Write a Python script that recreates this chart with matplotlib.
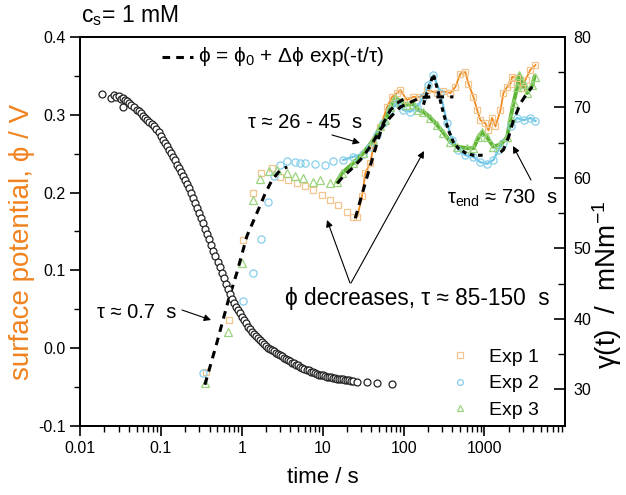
import matplotlib
matplotlib.use("Agg")
import matplotlib.pyplot as plt
from matplotlib.ticker import FixedLocator, MultipleLocator, FormatStrFormatter, FuncFormatter, LogLocator, NullFormatter

plt.rcParams["font.family"] = ["Liberation Sans", "DejaVu Sans"]
plt.rcParams["axes.unicode_minus"] = False
plt.rcParams["mathtext.fontset"] = "custom"
plt.rcParams["mathtext.rm"] = "Liberation Sans"
plt.rcParams["mathtext.it"] = "Liberation Sans"

# surface tension gamma(t) / mN m^-1  (right axis, black circles)
t_gamma = [0.0186, 0.024, 0.026, 0.028, 0.030, 0.032, 0.034, 0.034, 0.036, 0.038,
           0.040, 0.043, 0.046, 0.050, 0.053, 0.056, 0.060, 0.064, 0.068, 0.072,
           0.077, 0.082, 0.088, 0.094,
           0.100, 0.106, 0.112, 0.119, 0.126, 0.133, 0.141, 0.150, 0.158, 0.168,
           0.178, 0.188, 0.200, 0.211, 0.224, 0.237, 0.251, 0.266, 0.282, 0.299,
           0.316, 0.335, 0.355, 0.376, 0.398, 0.422, 0.447, 0.473, 0.501, 0.531,
           0.562, 0.596, 0.631, 0.668, 0.708, 0.750, 0.794, 0.841, 0.891, 0.944,
           1.00, 1.06, 1.12, 1.19, 1.26, 1.33, 1.41, 1.50, 1.58, 1.68,
           1.78, 1.88, 2.00, 2.11, 2.24, 2.37, 2.51, 2.66, 2.82, 2.99,
           3.16, 3.35, 3.55, 3.76, 3.98, 4.22, 4.47, 4.73, 5.01, 5.31,
           5.62, 5.96, 6.31, 6.68, 7.08, 7.50, 7.94, 8.41, 8.91, 9.44,
           10.0, 10.6, 11.2, 11.9, 12.6, 13.3, 14.1, 15.0, 15.8, 16.8,
           17.8, 18.8, 20.0, 21.1, 22.4, 23.7, 26.5, 35, 47, 72]
gamma = [71.9, 71.4, 71.8, 71.5, 71.6, 71.2, 71.3, 70.1, 71.0, 70.9,
         70.6, 70.4, 70.1, 69.7, 69.5, 69.2, 68.8, 68.5, 68.2, 67.9,
         67.6, 67.3, 66.9, 66.5,
         65.9, 65.4, 65.0, 64.5, 64.0, 63.5, 63.0, 62.5, 61.9, 61.4,
         60.8, 60.3, 59.7, 59.1, 58.6, 57.9, 57.2, 56.5, 55.7, 55.0,
         54.3, 53.6, 52.8, 52.1, 51.3, 50.5, 49.7, 48.9, 48.1, 47.3,
         46.5, 45.8, 45.0, 44.3, 43.6, 42.8, 42.2, 41.7, 41.2, 40.8,
         40.3, 39.9, 39.4, 38.9, 38.5, 38.2, 37.9, 37.6, 37.3, 37.0,
         36.7, 36.4, 36.2, 35.9, 35.7, 35.6, 35.4, 35.2, 35.0, 34.9,
         34.7, 34.5, 34.3, 34.1, 34.0, 33.8, 33.7, 33.5, 33.4, 33.2,
         33.1, 32.9, 32.8, 32.7, 32.5, 32.4, 32.3, 32.2, 32.1, 32.1,
         32.0, 31.9, 31.8, 31.8, 31.7, 31.6, 31.6, 31.5, 31.5, 31.4,
         31.4, 31.3, 31.3, 31.3, 31.2, 31.2, 31.1, 31.0, 30.9, 30.8]

# surface potential phi / V (left axis)
t_exp1 = [0.358, 0.704, 1.04, 1.39, 1.74, 2.34, 2.98, 3.75, 4.81, 6.10,
          7.66, 9.9, 12.4, 15.6, 20.0, 23.9, 26.8, 30.6, 33.7, 38.8,
          42.3, 51.6, 62.5, 72.1, 83.2, 91.3, 110, 132, 161, 195,
          260, 311, 380, 438, 505, 582, 634, 731, 813, 892,
          1028, 1121, 1245, 1368, 1578, 1718, 1909, 2099, 2203, 2541,
          2930, 3217, 3706, 4275]
phi_exp1 = [-0.031, 0.036, 0.139, 0.199, 0.225, 0.232, 0.220, 0.216, 0.212, 0.208,
            0.203, 0.197, 0.190, 0.184, 0.175, 0.169, 0.169, 0.195, 0.225, 0.238,
            0.259, 0.284, 0.310, 0.323, 0.328, 0.332, 0.319, 0.323, 0.323, 0.332,
            0.328, 0.330, 0.328, 0.336, 0.353, 0.355, 0.340, 0.323, 0.306, 0.293,
            0.289, 0.280, 0.296, 0.285, 0.306, 0.328, 0.336, 0.340, 0.349, 0.347,
            0.334, 0.345, 0.358, 0.364]

t_exp2 = [0.336, 1.03, 1.37, 1.74, 2.09, 2.47, 2.98, 3.6, 4.58, 5.28,
          6.10, 8.09, 10.8, 13.5, 18.0, 23.9, 31.8, 38.8, 47.0, 56.2,
          68.7, 83.2, 99.5, 121, 147, 176, 203, 234, 285, 345,
          398, 476, 582, 731, 892, 1079, 1291, 1489, 1718, 2099,
          2541, 3041, 3706, 4275]
phi_exp2 = [-0.032, 0.061, 0.097, 0.141, 0.188, 0.221, 0.235, 0.240, 0.239, 0.238,
            0.238, 0.237, 0.236, 0.240, 0.242, 0.246, 0.250, 0.259, 0.274, 0.289,
            0.306, 0.315, 0.306, 0.304, 0.310, 0.323, 0.338, 0.351, 0.328, 0.289,
            0.268, 0.255, 0.248, 0.246, 0.239, 0.237, 0.242, 0.255, 0.264, 0.285,
            0.296, 0.293, 0.296, 0.292]

t_exp3 = [0.35, 0.68, 1.02, 1.36, 1.68, 2.14, 2.74, 3.65, 4.58, 5.75,
          7.66, 9.33, 12.4, 15.0, 17.3, 23.9, 31.8, 42.3, 51.6, 59.6,
          68.7, 79.3, 91.3, 110, 132, 152, 176, 215, 260, 311,
          380, 459, 611, 731, 843, 936, 1079, 1291, 1578, 1909,
          2099, 2286, 2541, 2710, 3041, 3375, 3890, 4160]
phi_exp3 = [-0.045, 0.021, 0.110, 0.190, 0.217, 0.228, 0.229, 0.225, 0.221, 0.219,
            0.214, 0.216, 0.212, 0.214, 0.225, 0.238, 0.251, 0.268, 0.285, 0.293,
            0.310, 0.322, 0.317, 0.313, 0.314, 0.306, 0.304, 0.296, 0.287, 0.277,
            0.265, 0.259, 0.257, 0.257, 0.271, 0.278, 0.271, 0.259, 0.262, 0.271,
            0.296, 0.315, 0.336, 0.351, 0.340, 0.328, 0.338, 0.349]

# fitted curves phi = phi0 + dphi exp(-t/tau)
t_fit_a = [0.35, 0.492, 0.684, 0.869, 1.156, 1.54, 1.95, 2.36, 2.99, 3.65]
phi_fit_a = [-0.047, 0.007, 0.062, 0.097, 0.144, 0.174, 0.199, 0.216, 0.229, 0.233]
t_fit_b = [15.2, 18.0, 22.0, 29.2, 38.8, 51.6, 68.7, 91.3, 121, 161, 215, 285, 413]
phi_fit_b = [0.212, 0.221, 0.229, 0.242, 0.259, 0.281, 0.297, 0.310, 0.316, 0.322, 0.323, 0.323, 0.323]
t_fit_c = [25.3, 29.2, 35.3, 40.8, 47.0, 56.2, 68.7, 83.2, 99.5]
phi_fit_c = [0.167, 0.190, 0.220, 0.242, 0.264, 0.289, 0.306, 0.315, 0.320]
t_fit_d = [176, 203, 234, 270, 311, 359, 413, 476, 582, 731, 973]
phi_fit_d = [0.313, 0.334, 0.352, 0.328, 0.302, 0.280, 0.265, 0.257, 0.251, 0.248, 0.248]
t_fit_e = [1578, 1718, 1982, 2286, 2794, 3375, 3890]
phi_fit_e = [0.252, 0.255, 0.271, 0.293, 0.315, 0.328, 0.336]

orange_mk = "#F2C58E"
orange_ln = "#F28A1E"
blue_mk = "#86CFEA"
blue_ln = "#6EC6E6"
green_mk = "#9BD37F"
green_ln = "#5DB432"

fig = plt.figure(figsize=(6.26, 4.95), dpi=100)
ax = fig.add_axes([80 / 626, 69 / 495, 485 / 626, 389 / 495])
ax2 = ax.twinx()


def px(x, y):
    # pixel position in the picture -> axes fraction
    return ((x - 80) / 485, (426 - y) / 389)


# surface tension on right axis
ax2.plot(t_gamma, gamma, ls="none", marker="o", ms=5, mfc="white", mec="#222222", mew=0.9, zorder=2)

# experiments on left axis: light open markers plus darker line on the late part
ax.plot(t_exp1[16:], phi_exp1[16:], color=orange_ln, lw=1.3, zorder=3)
ax.plot(t_exp2[14:], phi_exp2[14:], color=blue_ln, lw=1.6, zorder=3)
ax.plot(t_exp3[13:], phi_exp3[13:], color=green_ln, lw=2.8, zorder=3)
ax.plot(t_exp1, phi_exp1, ls="none", marker="s", ms=4.8, mfc="none", mec=orange_mk, mew=0.9, label="Exp 1", zorder=4)
ax.plot(t_exp2, phi_exp2, ls="none", marker="o", ms=5.2, mfc="none", mec=blue_mk, mew=0.9, label="Exp 2", zorder=4)
ax.plot(t_exp3, phi_exp3, ls="none", marker="^", ms=5.2, mfc="none", mec=green_mk, mew=0.9, label="Exp 3", zorder=4)

dash = (0, (2.5, 2))
for tt, pp in [(t_fit_a, phi_fit_a), (t_fit_b, phi_fit_b), (t_fit_c, phi_fit_c), (t_fit_e, phi_fit_e)]:
    ax.plot(tt, pp, color="black", lw=2.2, ls=dash, zorder=5)
ax.plot(t_fit_d, phi_fit_d, color="black", lw=2.2, ls=(0, (1.5, 1.2)), zorder=5)

ax.set_xscale("log")
ax.set_xlim(0.01, 9900)
ax.set_ylim(-0.1, 0.4)
ax2.set_ylim(24.8, 80)

ax.xaxis.set_major_locator(FixedLocator([0.01, 0.1, 1, 10, 100, 1000]))
ax.xaxis.set_major_formatter(FuncFormatter(lambda v, p: "%g" % v))
ax.xaxis.set_minor_locator(LogLocator(base=10, subs=[2, 3, 4, 5, 6, 7, 8, 9], numticks=20))
ax.xaxis.set_minor_formatter(NullFormatter())
ax.yaxis.set_major_locator(MultipleLocator(0.1))
ax.yaxis.set_minor_locator(MultipleLocator(0.05))
ax.yaxis.set_major_formatter(FormatStrFormatter("%.1f"))
ax2.yaxis.set_major_locator(FixedLocator([30, 40, 50, 60, 70, 80]))
ax2.yaxis.set_minor_locator(FixedLocator([35, 45, 55, 65, 75]))

ax.tick_params(axis="both", which="major", direction="out", length=7, width=1.2, labelsize=11.5, top=False, right=False)
ax.tick_params(axis="both", which="minor", direction="out", length=4, width=1.0, top=False, right=False)
ax2.tick_params(axis="y", which="major", direction="in", length=8, width=1.2, labelsize=11.5, pad=6)
ax2.tick_params(axis="y", which="minor", direction="in", length=5, width=1.0)
for a in (ax, ax2):
    for s in a.spines.values():
        s.set_linewidth(1.3)

ax.set_xlabel("time / s", fontsize=16, labelpad=8)
ax.set_ylabel("surface potential, ϕ / V", fontsize=20, color="#F0821E")
ax.yaxis.set_label_coords(*px(35, 242))
ax2.set_ylabel("γ(t)  /  mNm$^{-1}$", fontsize=20, rotation=90)
ax2.yaxis.set_label_coords(*px(590, 285))

fig.text(81 / 626, 1 - 16 / 495, "c$_\\mathregular{s}$= 1 mM", fontsize=16.5, va="center", ha="left")

# fit legend line at top
ax.plot([px(162, 57)[0], px(193, 57)[0]], [px(162, 57)[1]] * 2, transform=ax.transAxes,
        color="black", lw=2.2, ls=dash)
ax.text(*px(198, 57), "ϕ = ϕ$_\\mathregular{0}$ + Δϕ exp(-t/τ)", transform=ax.transAxes,
        fontsize=15, va="center", ha="left")

arrow = dict(arrowstyle="-|>", color="black", lw=0.8, mutation_scale=10, shrinkA=0, shrinkB=0)
ax.text(*px(248, 123), "τ ≈ 26 - 45  s", transform=ax.transAxes, fontsize=14.5, va="center", ha="left")
ax.annotate("", xy=px(360, 143), xytext=px(332, 135), xycoords="axes fraction", textcoords="axes fraction", arrowprops=arrow)
ax.text(*px(97, 313), "τ ≈ 0.7  s", transform=ax.transAxes, fontsize=14.5, va="center", ha="left")
ax.annotate("", xy=px(211, 320), xytext=px(182, 310), xycoords="axes fraction", textcoords="axes fraction", arrowprops=arrow)
ax.text(*px(285, 298), "ϕ decreases, τ ≈ 85-150  s", transform=ax.transAxes, fontsize=16.3, va="center", ha="left")
ax.annotate("", xy=px(327, 220), xytext=px(350, 283), xycoords="axes fraction", textcoords="axes fraction", arrowprops=arrow)
ax.annotate("", xy=px(424, 151), xytext=px(351, 283), xycoords="axes fraction", textcoords="axes fraction", arrowprops=arrow)
ax.text(*px(447, 198), "τ$_\\mathregular{end}$ ≈ 730  s", transform=ax.transAxes, fontsize=14.5, va="center", ha="left")
ax.annotate("", xy=px(513, 146), xytext=px(531, 180), xycoords="axes fraction", textcoords="axes fraction", arrowprops=arrow)

leg = ax.legend(loc="upper left", bbox_to_anchor=px(431, 331), frameon=False, fontsize=14,
                handlelength=1.2, handletextpad=0.88, labelspacing=0.45, markerscale=0.8)

fig.savefig("out.png", dpi=100)
